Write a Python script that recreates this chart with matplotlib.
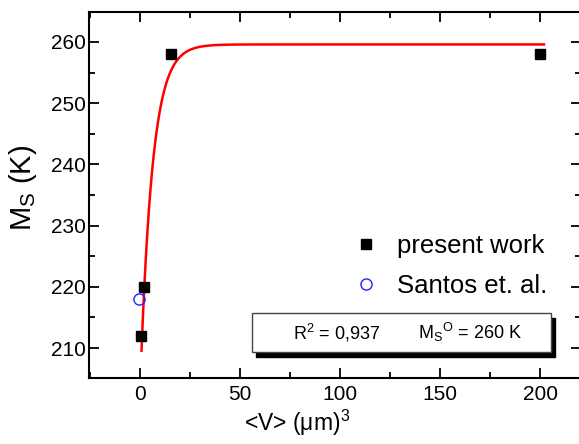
import numpy as np
import matplotlib
matplotlib.use("Agg")
import matplotlib.pyplot as plt
from matplotlib.ticker import MultipleLocator
from matplotlib.patches import Rectangle

plt.rcParams['font.family'] = ['Liberation Sans', 'DejaVu Sans']
plt.rcParams['mathtext.fontset'] = 'custom'
plt.rcParams['mathtext.rm'] = 'Liberation Sans'
plt.rcParams['mathtext.it'] = 'Liberation Sans'

# data
present_V = [15.5, 200.0, 0.5, 2.0]
present_Ms = [258.0, 258.0, 212.0, 220.0]
santos_V = [-0.3]
santos_Ms = [218.0]

# fit parameters (exponential saturation)
fit_M0 = 259.6
fit_A = 56.7
fit_tau = 6.0
fit_range = (0.75, 202.0)

fig = plt.figure(figsize=(5.79, 4.44), dpi=100)
ax = fig.add_axes([89/579, (444-378)/444, (581-89)/579, (378-12)/444])

V = np.linspace(fit_range[0], fit_range[1], 800)
ax.plot(V, fit_M0 - fit_A*np.exp(-V/fit_tau), color='#ff0000', lw=1.8, zorder=2)
ax.plot(present_V, present_Ms, 's', color='black', ms=7, zorder=3, label='present work')
ax.plot(santos_V, santos_Ms, 'o', mfc='none', mec='#2020ff', mew=1.0, ms=8, zorder=3, label='Santos et. al.')

ax.set_xlim(-25.5, 220.5)
ax.set_ylim(205.1, 264.9)
ax.xaxis.set_major_locator(MultipleLocator(50))
ax.xaxis.set_minor_locator(MultipleLocator(25))
ax.yaxis.set_major_locator(MultipleLocator(10))
ax.yaxis.set_minor_locator(MultipleLocator(5))
ax.tick_params(which='both', direction='in', top=True, right=True, labelsize=15, width=1.3)
ax.tick_params(which='major', length=7)
ax.tick_params(which='minor', length=4)
ax.tick_params(axis='x', which='major', pad=5)
ax.tick_params(axis='y', which='major', pad=2.5)
for s in ax.spines.values():
    s.set_linewidth(1.5)

ax.set_xlabel(r'<V> ($\mathrm{\mu}$m)$^3$', fontsize=16.5, va='center')
ax.xaxis.set_label_coords((297-89)/492, (378-423)/366)
ax.set_ylabel(r'M$_\mathrm{S}$ (K)', fontsize=21, va='center')
ax.yaxis.set_label_coords((23-89)/492, (378-188)/366)

fs_leg = 18.5
leg = ax.legend(loc='center left', bbox_to_anchor=((358-89)/492, (378-266)/366), frameon=False,
                fontsize=fs_leg, handletextpad=0.9, labelspacing=0.6, handlelength=0.6,
                borderpad=0, borderaxespad=0)

# annotation box with shadow
bx0, by0, bw, bh = 252, 313, 299, 39
fig.patches.append(Rectangle(((bx0+4)/579, (444-by0-bh-5)/444), bw/579, bh/444,
                             transform=fig.transFigure, facecolor='black', edgecolor='black', zorder=1))
fig.patches.append(Rectangle((bx0/579, (444-by0-bh)/444), bw/579, bh/444,
                             transform=fig.transFigure, facecolor='white', edgecolor='#444444', lw=1.0, zorder=2))
ty = (444-by0-bh/2)/444
fig.text(293/579, ty, r'R$^2$ = 0,937', ha='left', va='center', fontsize=13, zorder=3)
fig.text(522/579, ty, r'M$_\mathrm{S}$$^\mathrm{O}$ = 260 K', ha='right', va='center', fontsize=13, zorder=3)

fig.savefig('out.png', dpi=100)
